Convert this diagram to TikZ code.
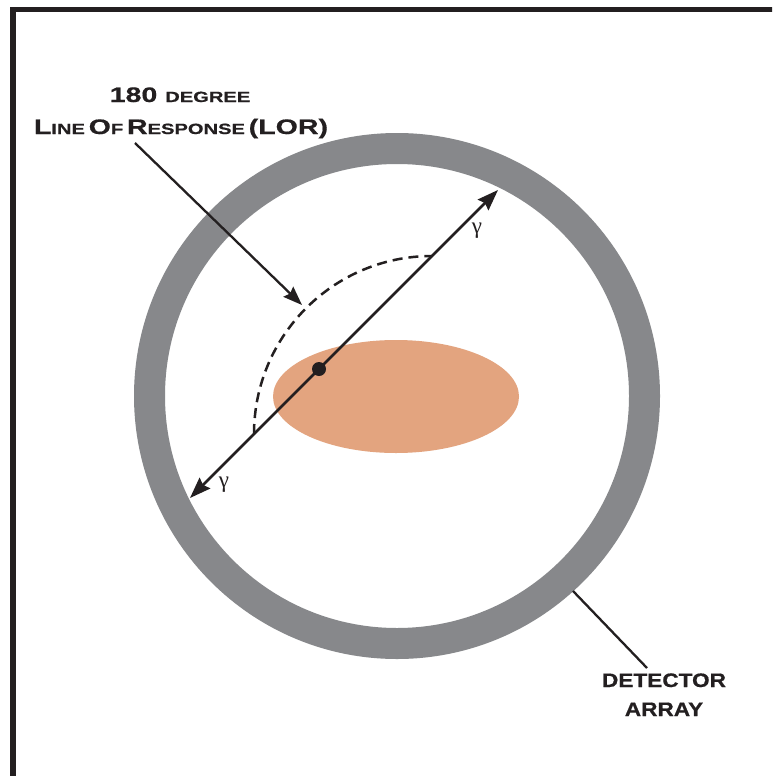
\documentclass[tikz,border=0pt]{standalone}
\usepackage{fontspec}
\setmainfont{Liberation Serif}
\newfontfamily\lorfont{Liberation Sans}[FakeStretch=1.36,FakeBold=0.6]
\newfontfamily\detfont{Liberation Sans}[FakeStretch=1.16,FakeBold=0.6]
\usetikzlibrary{arrows.meta}
\definecolor{ink}{HTML}{231F20}
\definecolor{ringgray}{HTML}{87888B}
\definecolor{tissue}{HTML}{E3A47F}
\newcommand\capbig[1]{{\fontsize{21}{24}\selectfont #1}}
\newcommand\capsmall[1]{{\fontsize{14.8}{18}\selectfont #1}}
\tikzset{
  frameline/.style={draw=ink, line width=5.5pt},
  ray/.style={draw=ink, line width=2.5pt, -{Stealth[length=21pt,width=15pt,inset=2.5pt]}},
  pointer/.style={draw=ink, line width=2.3pt, -{Stealth[length=19pt,width=14pt,inset=2.5pt]}},
  leader/.style={draw=ink, line width=2.3pt},
  anglearc/.style={draw=ink, line width=2.5pt, dash pattern=on 10pt off 6pt},
  caplabel/.style={text=ink, inner sep=0pt, anchor=base, font=\lorfont\bfseries},
  detlabel/.style={text=ink, inner sep=0pt, anchor=base, font=\detfont\bfseries\fontsize{19.5}{22}\selectfont},
  gammalabel/.style={text=ink, inner sep=0pt, font=\fontsize{23}{25}\selectfont},
}
\begin{document}
\begin{tikzpicture}[x=1pt,y=-1pt]
  \useasboundingbox (0,0) rectangle (772,776);
  \clip (0,0) rectangle (772,776);
  \fill[white] (0,0) rectangle (772,776);

  % outer frame (open to the right and bottom)
  \draw[frameline] (13,800) -- (13,9.5) -- (800,9.5);

  % detector ring
  \draw[ringgray, line width=31pt] (397,396) circle [radius=247.5];

  % tissue region
  \fill[tissue] (396,396.5) ellipse [x radius=123, y radius=56.5];

  % annihilation point and the two gamma rays
  \node[circle, fill=ink, inner sep=0pt, minimum size=14pt] (src) at (319,369) {};
  \coordinate (hitA) at (498,190);
  \coordinate (hitB) at (190,498);
  \draw[ray] (src.center) -- (hitA);
  \draw[ray] (src.center) -- (hitB);
  \node[gammalabel] (gA) at (477,231) {γ};
  \node[gammalabel] (gB) at (224,485) {γ};

  % 180 degree arc
  \coordinate (arcstart) at (254,434);
  \draw[anglearc] (arcstart) arc[start angle=180, end angle=270, radius=178];

  % LOR label and pointer
  \node[caplabel] (lorA) at (180,102) {\capbig{180 }\capsmall{DEGREE}};
  \node[caplabel] (lorB) at (181,134) {\capbig{L}\capsmall{INE} \capbig{O}\capsmall{F} \capbig{R}\capsmall{ESPONSE} \capbig{(LOR)}};
  \coordinate (lorTail) at (135,143);
  \coordinate (lorTip) at (302,305);
  \draw[pointer] (lorTail) -- (lorTip);

  % detector label and leader
  \node[detlabel] (detA) at (664,687) {DETECTOR};
  \node[detlabel] (detB) at (664,716) {ARRAY};
  \coordinate (ringEdge) at (573,591);
  \coordinate (detTail) at (647,668);
  \draw[leader] (ringEdge) -- (detTail);
\end{tikzpicture}
\end{document}
